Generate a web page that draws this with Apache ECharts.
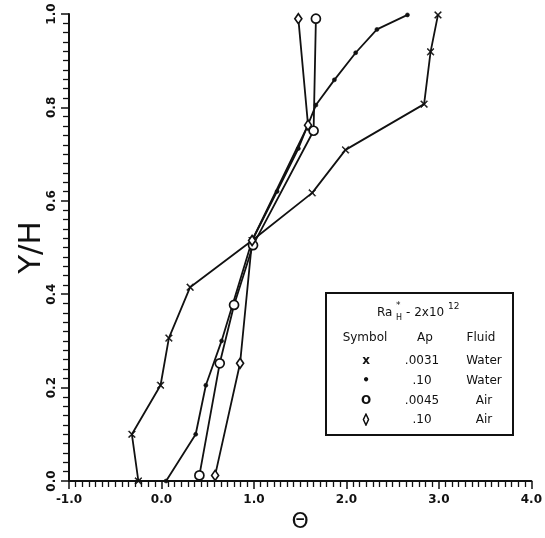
<!DOCTYPE html>
<html>
<head>
<meta charset="utf-8">
<script src="https://cdn.jsdelivr.net/npm/echarts@6/dist/echarts.min.js"></script>
<style>
  html, body { margin: 0; padding: 0; background: #fff; }
  #chart { width: 545px; height: 538px; }
</style>
</head>
<body>
<div id="chart"></div>
<script>
// Temperature profiles Θ against height Y/H for four runs

// Water, Ap = .0031  (crosses)
const thetaWater0031 = [-0.25, -0.32, -0.01, 0.08, 0.31, 0.98, 1.63, 1.99, 2.84, 2.91, 2.99];
const yhWater0031    = [0.0, 0.10, 0.205, 0.306, 0.415, 0.515, 0.617, 0.709, 0.807, 0.919, 0.998];

// Water, Ap = .10  (dots)
const thetaWater10 = [0.05, 0.37, 0.48, 0.65, 0.98, 1.25, 1.48, 1.67, 1.87, 2.10, 2.33, 2.66];
const yhWater10    = [0.0, 0.10, 0.205, 0.30, 0.515, 0.62, 0.712, 0.805, 0.859, 0.917, 0.967, 0.998];

// Air, Ap = .0045  (open circles)
const thetaAir0045 = [0.41, 0.63, 0.785, 0.99, 1.645, 1.67];
const yhAir0045    = [0.012, 0.252, 0.377, 0.505, 0.75, 0.99];

// Air, Ap = .10  (open diamonds)
const thetaAir10 = [0.58, 0.85, 0.98, 1.585, 1.48];
const yhAir10    = [0.012, 0.252, 0.515, 0.762, 0.99];

// Legend table rows
const legendSymbols = ['x', '•', 'O', '◊'];
const legendAp      = ['.0031', '.10', '.0045', '.10'];
const legendFluid   = ['Water', 'Water', 'Air', 'Air'];

const pairs = (xs, ys) => xs.map((x, i) => [x, ys[i]]);

const crossPath = 'path://M0,1L1,0L5,4L9,0L10,1L6,5L10,9L9,10L5,6L1,10L0,9L4,5Z';
const ink = '#111';
const font = '"DejaVu Sans", sans-serif';

function lineSeries(data, symbol, size, fill) {
  return {
    type: 'line',
    data: data,
    symbol: symbol,
    symbolSize: size,
    showAllSymbol: true,
    lineStyle: { color: ink, width: 1.8 },
    itemStyle: { color: fill, borderColor: ink, borderWidth: fill === '#fff' ? 1.7 : 0.6 },
    emphasis: { disabled: true },
    silent: true,
    z: fill === '#fff' ? 3 : 2
  };
}

// Legend box contents
const rowY = [361, 381, 401, 420];
const legendGraphics = [
  { type: 'rect', shape: { x: 326, y: 293, width: 187, height: 142 },
    style: { fill: 'none', stroke: ink, lineWidth: 2 } },
  { type: 'text', x: 377, y: 313, style: { text: 'Ra', font: '12px ' + font, fill: ink, verticalAlign: 'middle' } },
  { type: 'text', x: 396, y: 306, style: { text: '*', font: '9px ' + font, fill: ink, verticalAlign: 'middle' } },
  { type: 'text', x: 396, y: 318, style: { text: 'H', font: '8px ' + font, fill: ink, verticalAlign: 'middle' } },
  { type: 'text', x: 406, y: 313, style: { text: '- 2x10', font: '12px ' + font, fill: ink, verticalAlign: 'middle' } },
  { type: 'text', x: 448, y: 307, style: { text: '12', font: '9px ' + font, fill: ink, verticalAlign: 'middle' } },
  { type: 'text', x: 365, y: 338, style: { text: 'Symbol', font: '12px ' + font, fill: ink, align: 'center', verticalAlign: 'middle' } },
  { type: 'text', x: 425, y: 338, style: { text: 'Ap', font: '12px ' + font, fill: ink, align: 'center', verticalAlign: 'middle' } },
  { type: 'text', x: 481, y: 338, style: { text: 'Fluid', font: '12px ' + font, fill: ink, align: 'center', verticalAlign: 'middle' } }
];
legendSymbols.forEach((s, i) => {
  legendGraphics.push(
    { type: 'text', x: 366, y: rowY[i], style: { text: s, font: 'bold 12px ' + font, fill: ink, align: 'center', verticalAlign: 'middle',
      stroke: i === 3 ? ink : null, lineWidth: i === 3 ? 0.8 : 0 } },
    { type: 'text', x: 422, y: rowY[i], style: { text: legendAp[i], font: '12px ' + font, fill: ink, align: 'center', verticalAlign: 'middle' } },
    { type: 'text', x: 484, y: rowY[i], style: { text: legendFluid[i], font: '12px ' + font, fill: ink, align: 'center', verticalAlign: 'middle' } }
  );
});

const chart = echarts.init(document.getElementById('chart'), null, { renderer: 'canvas' });
chart.setOption({
  animation: false,
  backgroundColor: '#fff',
  grid: { left: 69, right: 7, top: 14, bottom: 57, containLabel: false },
  xAxis: {
    type: 'value',
    min: -1, max: 4, interval: 1,
    name: 'Θ',
    nameLocation: 'middle',
    nameGap: 30,
    nameMoveOverlap: false,
    nameTextStyle: { fontFamily: font, fontSize: 22, color: ink },
    axisLine: { show: true, onZero: false, lineStyle: { color: ink, width: 2 } },
    axisTick: { show: true, inside: false, length: 8, lineStyle: { color: ink, width: 1.5 } },
    minorTick: { show: true, splitNumber: 14, length: 6, lineStyle: { color: ink, width: 1.3 } },
    axisLabel: { margin: 13, fontFamily: font, fontSize: 12, fontWeight: 'bold', color: ink,
                 formatter: v => v.toFixed(1) },
    splitLine: { show: false }
  },
  yAxis: {
    type: 'value',
    min: 0, max: 1, interval: 0.2,
    name: 'Y/H',
    nameLocation: 'middle',
    nameGap: 22,
    nameMoveOverlap: false,
    nameRotate: 90,
    nameTextStyle: { fontFamily: font, fontSize: 31, color: ink },
    axisLine: { show: true, onZero: false, lineStyle: { color: ink, width: 2 } },
    axisTick: { show: true, inside: false, length: 8, lineStyle: { color: ink, width: 1.5 } },
    minorTick: { show: true, splitNumber: 10, length: 6, lineStyle: { color: ink, width: 1.3 } },
    axisLabel: { margin: 11, rotate: 90, fontFamily: font, fontSize: 12, fontWeight: 'bold', color: ink,
                 formatter: v => v.toFixed(1) },
    splitLine: { show: false }
  },
  series: [
    lineSeries(pairs(thetaWater0031, yhWater0031), crossPath, 7, ink),
    lineSeries(pairs(thetaWater10, yhWater10), 'circle', 4, ink),
    lineSeries(pairs(thetaAir0045, yhAir0045), 'circle', 9, '#fff'),
    lineSeries(pairs(thetaAir10, yhAir10), 'diamond', [7, 10], '#fff')
  ],
  graphic: legendGraphics
});
</script>
</body>
</html>
